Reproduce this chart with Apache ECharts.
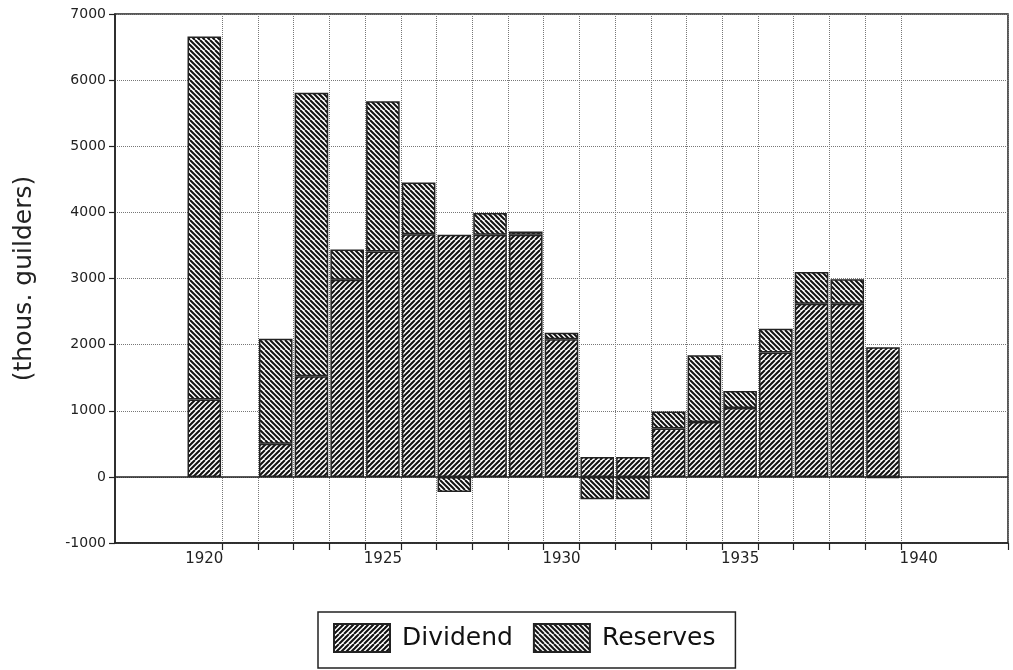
<!DOCTYPE html>
<html>
<head>
<meta charset="utf-8">
<script src="https://cdn.jsdelivr.net/npm/echarts@6/dist/echarts.min.js"></script>
<style>
  html, body { margin: 0; background: #fff; }
  #chart { width: 1013px; height: 670px; }
</style>
</head>
<body>
<div id="chart"></div>
<script>
// years on the category axis
var years = ['1918', '1919', '1920', '1921', '1922', '1923', '1924', '1925', '1926', '1927',
             '1928', '1929', '1930', '1931', '1932', '1933', '1934', '1935', '1936', '1937',
             '1938', '1939', '1940', '1941', '1942'];

// thous. guilders
var dividend = [null, null, 1170, null, 500, 1520, 2980, 3410, 3670, 3660,
                3660, 3660, 2080, 300, 300, 730, 830, 1040, 1880, 2620,
                2620, 1960, null, null, null];
var reserves = [null, null, 5490, null, 1590, 4290, 460, 2270, 780, -230,
                330, 50, 100, -340, -340, 260, 1010, 260, 360, 480,
                370, -20, null, null, null];

var labelYears = ['1920', '1925', '1930', '1935', '1940'];
var firstTick = 1921, lastTick = 1940;

var INK = '#222';
var FONT = '"DejaVu Sans", sans-serif';

// diagonal hatch tile, dir 1 = "/", dir -1 = "\"
function hatch(dir) {
    var c = document.createElement('canvas');
    c.width = 10; c.height = 10;
    var g = c.getContext('2d');
    g.fillStyle = '#fff';
    g.fillRect(0, 0, 10, 10);
    g.strokeStyle = '#111';
    g.lineWidth = 2;
    for (var k = -10; k <= 20; k += 5) {
        g.beginPath();
        g.moveTo(k, 0);
        g.lineTo(k - 10 * dir, 10);
        g.stroke();
    }
    return c;
}

function showTick(i, v) {
    var y = +v;
    return y >= firstTick && y <= lastTick;
}

var chart = echarts.init(document.getElementById('chart'));

chart.setOption({
    animation: false,
    grid: {
        left: 115, right: 5, top: 14, bottom: 127,
        show: true, borderColor: INK, borderWidth: 1.5
    },
    legend: {
        left: 318, top: 612,
        itemWidth: 56, itemHeight: 28, itemGap: 20,
        icon: 'rect',
        borderColor: INK, borderWidth: 1.5,
        padding: [11, 20, 15, 15],
        textStyle: { fontFamily: FONT, fontSize: 25, color: '#111', padding: [0, 0, 0, 7] },
        data: ['Dividend', 'Reserves']
    },
    xAxis: {
        type: 'category',
        data: years,
        boundaryGap: true,
        axisLine: { onZero: false, lineStyle: { color: INK, width: 1.5 } },
        axisTick: { show: true, interval: showTick, length: 7, lineStyle: { color: INK, width: 1.2 } },
        axisLabel: {
            interval: function (i, v) { return labelYears.indexOf(v) >= 0; },
            fontFamily: FONT, fontSize: 15, color: INK, margin: 9
        },
        splitLine: { show: true, interval: showTick, lineStyle: { color: '#777', type: 'dotted', width: 1 } }
    },
    yAxis: {
        type: 'value',
        min: -1000, max: 7000, interval: 1000,
        name: '(thous. guilders)',
        nameLocation: 'middle',
        nameGap: 78,
        nameTextStyle: { fontFamily: FONT, fontSize: 25, color: INK },
        axisLine: { show: true, lineStyle: { color: INK, width: 1.5 } },
        axisTick: { show: true, length: 6, lineStyle: { color: INK, width: 1.2 } },
        axisLabel: {
            fontFamily: FONT, fontSize: 14, color: INK, margin: 9,
            formatter: function (v) { return String(v); }
        },
        splitLine: { show: true, lineStyle: { color: '#777', type: 'dotted', width: 1 } }
    },
    series: [
        {
            name: 'Dividend', type: 'bar', stack: 'total',
            data: dividend,
            barCategoryGap: '6%',
            itemStyle: { color: { image: hatch(1), repeat: 'repeat' }, borderColor: INK, borderWidth: 1.5 },
            markLine: {
                silent: true, symbol: 'none', label: { show: false },
                lineStyle: { color: INK, type: 'solid', width: 1.5 },
                data: [{ yAxis: 0 }]
            }
        },
        {
            name: 'Reserves', type: 'bar', stack: 'total',
            data: reserves,
            barCategoryGap: '6%',
            itemStyle: { color: { image: hatch(-1), repeat: 'repeat' }, borderColor: INK, borderWidth: 1.5 }
        }
    ]
});
</script>
</body>
</html>
